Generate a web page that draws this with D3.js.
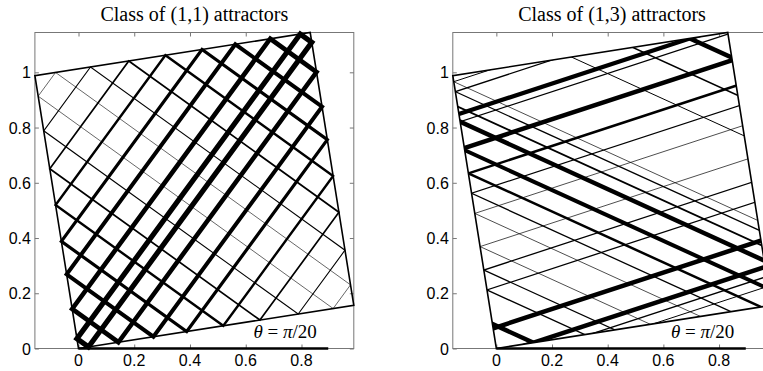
<!DOCTYPE html>
<html>
<head>
<meta charset="utf-8">
<script src="https://cdn.jsdelivr.net/npm/d3@7"></script>
<style>
  body { margin: 0; background: #fff; }
  svg { display: block; }
  .lbl { font-family: "Liberation Sans", Arial, sans-serif; font-size: 16px; fill: #000; }
</style>
</head>
<body>
<div id="chart"></div>
<script>
// tilt of the square basin
const theta = Math.PI / 20;

// left panel: (1,1) orbits, hit point on the bottom wall (box units) and line weight
const orbitA = [0.036, 0.145, 0.272, 0.393, 0.526, 0.659, 0.798, 0.925];
const orbitW = [5.2, 4.6, 4.0, 3.2, 2.4, 1.7, 1.1, 0.6];

// right panel: (1,3) rays, slopes and intercepts of up / down going segments
const slopeUp = 0.33;
const slopeDown = 0.46;
const upB = [1.0165, 0.9786, 0.8932, 0.8639, 0.7640, 0.6672, 0.5914, 0.5146, 0.3883, 0.2989, 0.2231, 0.0768, -0.0229, -0.0599, -0.0968];
const upW = [1.0, 1.3, 4.2, 1.3, 4.5, 2.5, 1.3, 0.7, 0.7, 1.3, 1.3, 4.5, 4.5, 1.3, 1.0];
const downC = [0.8956, 0.8622, 0.8121, 0.7611, 0.6657, 0.5878, 0.5210, 0.4534, 0.3421, 0.2633, 0.1965, 0.0822, 1.4423, 1.3155, 1.1794];
const downW = [0.7, 1.3, 1.8, 4.5, 4.0, 2.5, 1.3, 0.7, 0.7, 1.3, 1.3, 4.5, 4.5, 1.5, 1.0];

const xTicks = [0, 0.2, 0.4, 0.6, 0.8];
const yTicks = [0, 0.2, 0.4, 0.6, 0.8, 1];
const titles = ["Class of (1,1) attractors", "Class of (1,3) attractors"];
const lidEnd = 0.896;

const width = 763, height = 371;
const svg = d3.select("#chart").append("svg")
    .attr("width", width)
    .attr("height", height);

const c = Math.cos(theta), s = Math.sin(theta);
const toXY = (u, v) => [u * c - v * s, u * s + v * c];
const corners = [[0, 0], [1, 0], [1, 1], [0, 1]].map(p => toXY(p[0], p[1]));
const fmt = d3.format("");

function panel(left, right, idx) {
    const x = d3.scaleLinear().domain([-s, c]).range([left, right]);
    const y = d3.scaleLinear().domain([0, s + c]).range([348.5, 32.5]);
    const g = svg.append("g");

    // box
    g.append("rect")
        .attr("x", x(-s)).attr("y", y(s + c))
        .attr("width", x(c) - x(-s)).attr("height", y(0) - y(s + c))
        .attr("fill", "none").attr("stroke", "#777").attr("stroke-width", 1);

    // inward ticks on all four sides
    const axes = [
        [d3.axisBottom(x).tickValues(xTicks), `translate(0,${y(0)})`],
        [d3.axisTop(x).tickValues(xTicks), `translate(0,${y(s + c)})`],
        [d3.axisLeft(y).tickValues(yTicks), `translate(${x(-s)},0)`],
        [d3.axisRight(y).tickValues(yTicks), `translate(${x(c)},0)`]
    ];
    axes.forEach(([ax, tr]) => {
        const a = g.append("g")
            .attr("transform", tr)
            .call(ax.tickSize(-4).tickFormat(""));
        a.select(".domain").remove();
        a.selectAll(".tick line").attr("stroke", "#777");
    });

    // tick labels
    g.selectAll(".xl").data(xTicks).enter().append("text")
        .attr("class", "lbl")
        .attr("x", d => x(d))
        .attr("y", y(0) + 17)
        .attr("text-anchor", "middle")
        .text(fmt);
    g.selectAll(".yl").data(yTicks).enter().append("text")
        .attr("class", "lbl")
        .attr("x", x(-s) - 4)
        .attr("y", d => y(d) + 6)
        .attr("text-anchor", "end")
        .text(fmt);

    // title
    svg.append("text")
        .attr("x", (left + right) / 2)
        .attr("y", 21)
        .attr("text-anchor", "middle")
        .attr("font-family", "'Liberation Serif', 'Times New Roman', serif")
        .attr("font-size", 20)
        .text(titles[idx]);

    return {g, x, y};
}

const line = (x, y) => d3.line().x(d => x(d[0])).y(d => y(d[1]));

function finish(p) {
    const {g, x, y} = p;
    // basin outline
    g.append("path")
        .attr("d", line(x, y)(corners) + "Z")
        .attr("fill", "none").attr("stroke", "#000")
        .attr("stroke-width", 1.6).attr("stroke-linejoin", "miter");
    // bottom bar
    g.append("path")
        .attr("d", line(x, y)([[0, 0], [lidEnd, 0]]))
        .attr("stroke", "#000").attr("stroke-width", 2.4);
    // angle label
    const t = g.append("text")
        .attr("x", x(0.855)).attr("y", y(0) - 10.5)
        .attr("text-anchor", "end")
        .attr("font-family", "'Liberation Serif', 'Times New Roman', serif")
        .attr("font-size", 19);
    t.append("tspan").attr("font-style", "italic").text("θ");
    t.append("tspan").text(" = ");
    t.append("tspan").attr("font-style", "italic").text("π");
    t.append("tspan").text("/20");
}

// ---- left panel
const pL = panel(34.9, 353.8, 0);
const orbits = orbitA.map((a, i) => ({
    pts: [toXY(a, 0), toXY(1, 1 - a), toXY(1 - a, 1), toXY(0, a)],
    w: orbitW[i]
})).sort((p, q) => p.w - q.w);

pL.g.append("g").selectAll("path")
    .data(orbits)
    .enter().append("path")
    .attr("d", d => line(pL.x, pL.y)(d.pts) + "Z")
    .attr("fill", "none")
    .attr("stroke", "#000")
    .attr("stroke-width", d => d.w)
    .attr("stroke-linejoin", "miter");
finish(pL);

// ---- right panel
const pR = panel(452.8, 771.3, 1);
svg.append("clipPath").attr("id", "basinR")
    .append("path")
    .attr("d", line(pR.x, pR.y)(corners) + "Z");

const rays = upB.map((b, i) => ({k: slopeUp, b, w: upW[i]}))
    .concat(downC.map((b, i) => ({k: -slopeDown, b, w: downW[i]})))
    .sort((p, q) => p.w - q.w);

pR.g.append("g")
    .attr("clip-path", "url(#basinR)")
    .selectAll("path")
    .data(rays)
    .enter().append("path")
    .attr("d", d => line(pR.x, pR.y)([[-0.3, d.b - 0.3 * d.k], [1.2, d.b + 1.2 * d.k]]))
    .attr("fill", "none")
    .attr("stroke", "#000")
    .attr("stroke-width", d => d.w);
finish(pR);
</script>
</body>
</html>
